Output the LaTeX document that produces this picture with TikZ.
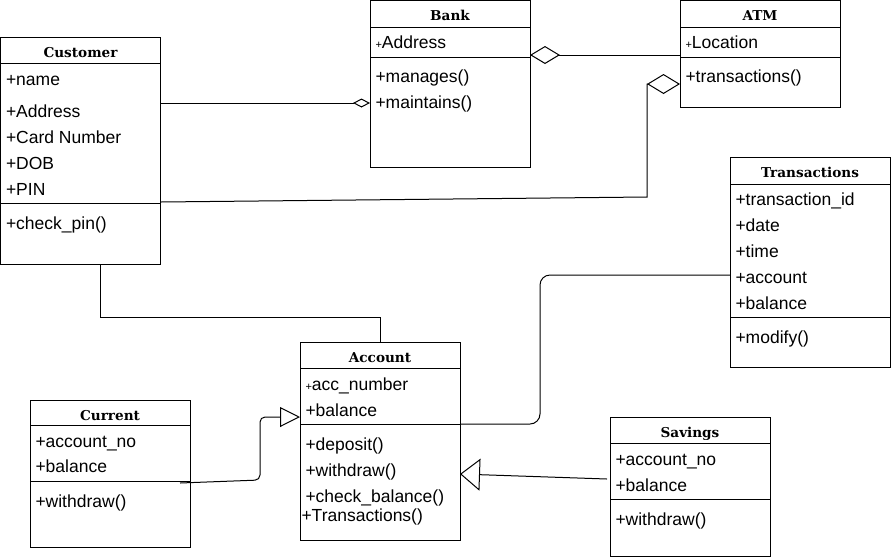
\documentclass[tikz,border=0pt]{standalone}
\usepackage{fontspec}
\setmainfont{Liberation Sans}
\newfontfamily\titlefamily{DejaVu Serif}
\usepackage{tikz}
\usetikzlibrary{positioning, calc, arrows.meta}
\newcommand{\smallplus}{{\fontsize{11}{12}\selectfont+}}

\begin{document}
\begin{tikzpicture}[x=1pt, y=-1pt, line width=1pt,
  classbox/.style={draw, rectangle, anchor=north west, inner sep=0pt, outer sep=0pt, minimum width=160pt},
  classtitle/.style={anchor=base, inner sep=0pt, font=\titlefamily\bfseries\fontsize{13.6}{16}\selectfont},
  member/.style={anchor=base west, inner sep=0pt, font=\fontsize{17.5}{20}\selectfont},
  aggr/.style 2 args={-{Diamond[open, length=#1, width=#2]}},
  inherit/.style 2 args={-{Triangle[open, length=#1, width=#2]}}]
	\useasboundingbox (0,0) rectangle (891,558);
	
	% classes
	\node[classbox, minimum height=227pt] (customer) at (0.5,37) {};
	\node[classbox, minimum height=166.5pt] (bank) at (370,0.5) {};
	\node[classbox, minimum height=106.5pt] (atm) at (680,0.5) {};
	\node[classbox, minimum height=210pt] (transactions) at (730,157) {};
	\node[classbox, minimum height=198pt] (account) at (300,342) {};
	\node[classbox, minimum height=147pt] (current) at (30,400) {};
	\node[classbox, minimum height=139pt] (savings) at (610,417) {};
	
	\foreach \c/\a/\b in {customer/26/166, bank/27/57, atm/27/57, transactions/27/160, account/26/82, current/25/81, savings/26/82} {
		\draw ($(\c.north west)+(0,\a)$) -- ($(\c.north east)+(0,\a)$);
		\draw ($(\c.north west)+(0,\b)$) -- ($(\c.north east)+(0,\b)$);
	}
	\foreach \c/\t in {customer/Customer, bank/Bank, atm/ATM, transactions/Transactions, account/Account, current/Current, savings/Savings}
		\node[classtitle] (\c title) at ($(\c.north)+(0,20)$) {\t};
	
	% attributes and operations
	\foreach \c/\dy/\t in {customer/48/{+name}, customer/80/{+Address}, customer/106/{+Card Number}, customer/132/{+DOB}, customer/158/{+PIN}, customer/192/{+check\_pin()},
		bank/48/{\smallplus Address}, bank/82/{+manages()}, bank/108/{+maintains()},
		atm/48/{\smallplus Location}, atm/82/{+transactions()},
		transactions/48/{+transaction\_id}, transactions/74/{+date}, transactions/100/{+time}, transactions/126/{+account}, transactions/152/{+balance}, transactions/186/{+modify()},
		account/48/{\smallplus acc\_number}, account/74/{+balance}, account/108/{+deposit()}, account/134/{+withdraw()}, account/160/{+check\_balance()},
		current/47/{+account\_no}, current/72/{+balance}, current/107/{+withdraw()},
		savings/48/{+account\_no}, savings/74/{+balance}, savings/108/{+withdraw()}}
		\node[member] (\c-\dy) at ($(\c.north west)+(5,\dy)$) {\t};
	\node[member] (account-179) at ($(account.north west)+(1,179)$) {+Transactions()};
	
	% associations
	\coordinate (atmjoin) at (647,197);
	\draw[aggr={17pt}{9pt}] ($(customer.north east)+(0,66)$) -- ($(bank.north west)+(0,102.5)$);
	\draw[aggr={30pt}{18pt}] ($(atm.north west)+(0,54.5)$) -- ($(bank.north east)+(0,54.5)$);
	\draw[aggr={33pt}{20pt}] ($(customer.north east)+(0,165)$) -- (atmjoin) |- ($(atm.north west)+(0,83.5)$);
	\draw ($(customer.south west)+(99.5,0)$) -- ++(0,53) -| (account.north);
	\draw[rounded corners=10pt] ($(account.north east)+(0,82)$) -- ++(80,0) |- ($(transactions.north west)+(0,118)$);
	\draw[inherit={20pt}{20pt}, rounded corners=5pt] ($(current.north west)+(150,83)$) -- ++(80,-3) |- ($(account.north west)+(0,75)$);
	\draw[inherit={20pt}{32pt}] ($(savings.north west)+(-3,62)$) -- ($(account.north east)+(0,132)$);
\end{tikzpicture}
\end{document}
